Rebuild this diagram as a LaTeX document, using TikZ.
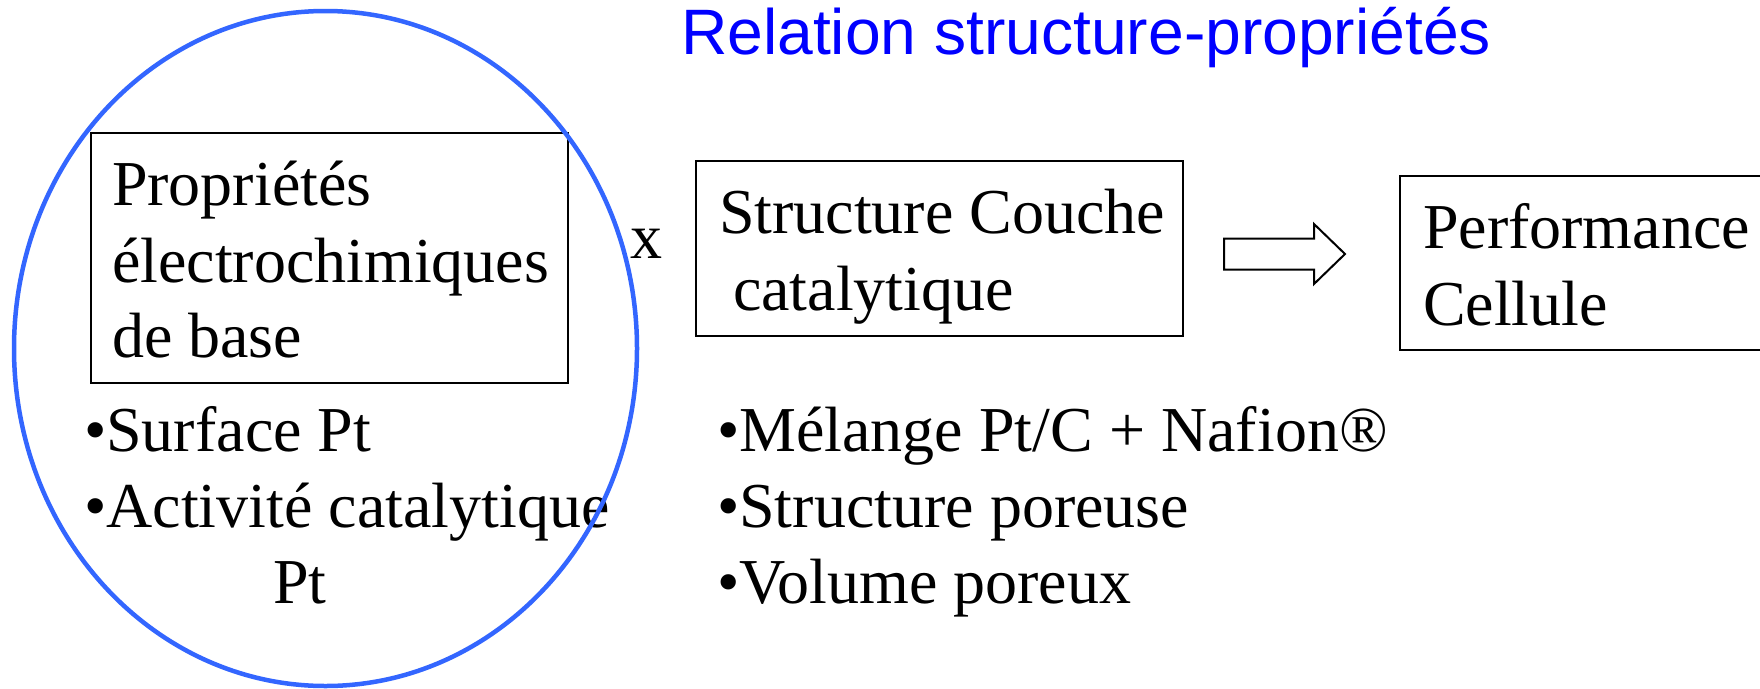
\documentclass[tikz,border=0pt]{standalone}
\usepackage{fontspec}
\usetikzlibrary{shapes.geometric}
\setmainfont{Liberation Serif}
\newfontfamily\headfont{Liberation Sans}
\definecolor{ringblue}{RGB}{51,102,255}
\definecolor{headblue}{RGB}{0,0,255}

\begin{document}
\begin{tikzpicture}[x=1pt,y=-1pt,
  every node/.style={inner sep=0pt, outer sep=0pt},
  body/.style={font=\fontsize{64}{76}\selectfont, anchor=base west},
  heading/.style={font=\headfont\fontsize{64.2}{76}\selectfont, text=headblue, anchor=base west},
  frame/.style={draw=black, line width=2pt, rectangle, anchor=north west},
  blockarrow/.style={draw=black, line width=2pt, fill=white, line join=miter},
  ring/.style={draw=ringblue, line width=4.5pt, ellipse}]

\clip (0,0) rectangle (1760,688);
\fill[white] (0,0) rectangle (1760,688);

% heading
\node[heading] (title) at (681,54) {Relation structure-propriétés};

% the three boxes
\node[frame, minimum width=477pt, minimum height=250pt] (props)  at (91,133) {};
\node[frame, minimum width=487pt, minimum height=175pt] (struct) at (696,161) {};
\node[frame, minimum width=420pt, minimum height=174pt] (perf)   at (1400,176) {};

% box texts
\node[body] (p1) at (112,205) {Propriétés};
\node[body] (p2) at (112,282) {électrochimiques};
\node[body] (p3) at (112,357) {de base};

\node[body] (s1) at (719,233) {Structure Couche};
\node[body] (s2) at (733,310) {catalytique};

\node[body] (c1) at (1423,248) {Performance};
\node[body] (c2) at (1423,325) {Cellule};

% product sign
\node[body] (times) at (630,258) {x};

% block arrow towards the cell performance
\draw[blockarrow] (1224,238.5) -- (1314,238.5) -- (1314,224) -- (1345,254)
  -- (1314,284) -- (1314,269.5) -- (1224,269.5) -- cycle;

% bullet lists
\node[body] (l1) at (84,451) {•Surface Pt};
\node[body] (l2) at (84,527) {•Activité catalytique};
\node[body] (l3) at (273,603) {Pt};

\node[body] (r1) at (717,451) {•Mélange Pt/C + Nafion®};
\node[body] (r2) at (717,527) {•Structure poreuse};
\node[body] (r3) at (717,603) {•Volume poreux};

% ring around the basic properties
\node[ring, minimum width=623pt, minimum height=675pt] (focus) at (325.5,348.5) {};
\end{tikzpicture}
\end{document}
